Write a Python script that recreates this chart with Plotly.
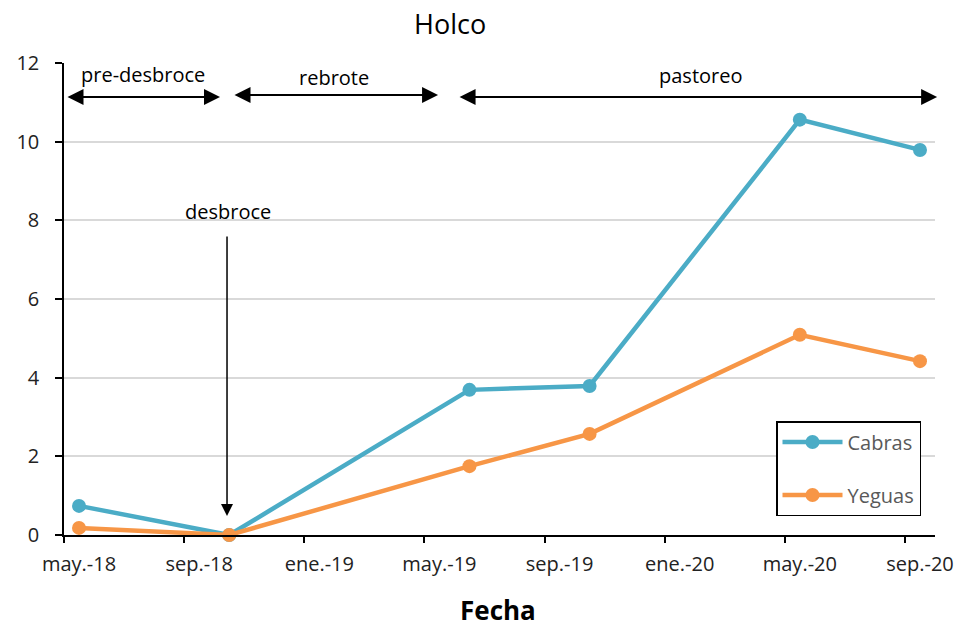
import plotly.graph_objects as go

# Data
months = ["2018-05", "2018-10", "2019-06", "2019-10", "2020-05", "2020-09"]
cabras = [0.74, 0.0, 3.69, 3.79, 10.56, 9.79]
yeguas = [0.18, 0.0, 1.75, 2.57, 5.09, 4.42]
tick_labels = ["may.-18", "sep.-18", "ene.-19", "may.-19", "sep.-19", "ene.-20", "may.-20", "sep.-20"]
start_year, start_month = 2018, 5


def month_index(s):
    y, m = map(int, s.split("-"))
    return (y - start_year) * 12 + (m - start_month)


x = [month_index(m) for m in months]
tickvals = [i * 4 for i in range(len(tick_labels))]

FONT = "Open Sans, sans-serif"

fig = go.Figure()
fig.add_trace(go.Scatter(x=x, y=cabras, name="Cabras", mode="lines+markers",
                         line=dict(color="#4BACC6", width=4.5),
                         marker=dict(size=14, color="#4BACC6"),
                         legendgroup="a", cliponaxis=False))
fig.add_trace(go.Scatter(x=x, y=yeguas, name="Yeguas", mode="lines+markers",
                         line=dict(color="#F79646", width=4.5),
                         marker=dict(size=14, color="#F79646"),
                         legendgroup="b", cliponaxis=False))


# page-pixel -> data helpers (plot area spans 64..935 px horizontally, 63..535 px vertically)
def px2x(px):
    return (px - 64) / 30.03 - 0.5


def py2y(py):
    return (535 - py) / 39.33


annotations = []
for (x0, x1, yy) in [(66, 220, 97), (233, 438, 95), (458, 937, 97)]:
    annotations.append(dict(x=px2x(x1), y=py2y(yy), ax=px2x(x0), ay=py2y(yy),
                            xref="x", yref="y", axref="x", ayref="y", text="",
                            showarrow=True, arrowhead=2, startarrowhead=2,
                            arrowside="end+start", arrowsize=1.6, startarrowsize=1.6,
                            arrowwidth=2, arrowcolor="black"))
annotations.append(dict(x=px2x(227), y=py2y(516), ax=px2x(227), ay=py2y(235),
                        xref="x", yref="y", axref="x", ayref="y", text="",
                        showarrow=True, arrowhead=2, arrowsize=1.6, arrowwidth=1.5,
                        arrowcolor="black"))
for (txt, px, py) in [("pre-desbroce", 143, 75), ("rebrote", 334, 78),
                      ("pastoreo", 700, 76), ("desbroce", 228, 212)]:
    annotations.append(dict(x=px2x(px), y=py2y(py), xref="x", yref="y", text=txt,
                            showarrow=False, font=dict(size=20, color="black", family=FONT)))
# chart title
annotations.append(dict(x=(450 - 64) / 871, y=(535 - 23) / 472, xref="paper", yref="paper",
                        text="Holco", showarrow=False, xanchor="center", yanchor="middle",
                        font=dict(size=27, color="black", family=FONT)))
# x-axis title
annotations.append(dict(x=(498 - 64) / 871, y=(535 - 610) / 472, xref="paper", yref="paper",
                        text="<b>Fecha</b>", showarrow=False, xanchor="center", yanchor="middle",
                        font=dict(size=26, color="black", family=FONT)))

W, H = 972, 620  # page has an 8px body margin
fig.update_layout(
    width=W, height=H,
    margin=dict(l=56, r=45, t=55, b=93),
    paper_bgcolor="white", plot_bgcolor="white",
    font=dict(family=FONT, size=20, color="#222"),
    xaxis=dict(range=[-0.5, 28.5], tickmode="array", tickvals=tickvals, ticktext=tick_labels,
               ticks="", showgrid=False, showline=True, linecolor="black", linewidth=1.5,
               zeroline=False, tickfont=dict(size=20, color="#222"), ticklabelstandoff=10,
               automargin=False,
               minor=dict(tickmode="array", tickvals=[v - 0.5 for v in tickvals],
                          ticks="outside", ticklen=6, tickcolor="black", tickwidth=1.5, showgrid=False)),
    yaxis=dict(range=[0, 12], dtick=2, ticks="outside", ticklen=7, tickcolor="black", tickwidth=1.5,
               showline=True, linecolor="black", linewidth=1.5, gridcolor="#D9D9D9", gridwidth=1.5,
               zeroline=False, tickfont=dict(size=20, color="#222"), ticklabelstandoff=12,
               automargin=False),
    legend=dict(x=(776 - 64) / 871, y=(535 - 421) / 472, xanchor="left", yanchor="top",
                bordercolor="black", borderwidth=1.5, bgcolor="white",
                font=dict(size=20, color="#595959", family=FONT), tracegroupgap=24,
                itemwidth=60),
    annotations=annotations,
    showlegend=True,
)

fig.write_html("out.html")
